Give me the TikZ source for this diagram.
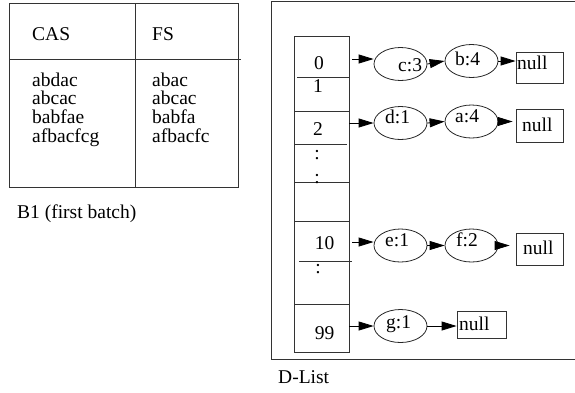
\documentclass[tikz,border=0pt]{standalone}
\usepackage{fontspec}
\setmainfont{Liberation Serif}
\usetikzlibrary{shapes.geometric,arrows.meta}
\begin{document}
\begin{tikzpicture}[x=1pt,y=-1pt,
  ln/.style={line width=0.8pt,draw=black!80},
  txt/.style={anchor=base west,inner sep=0pt,font=\fontsize{19.5}{18.7}\selectfont},
  ctxt/.style={anchor=base,inner sep=0pt,font=\fontsize{19.5}{18.7}\selectfont},
  ell/.style={ellipse,draw=black!85,line width=0.8pt,minimum width=53pt,minimum height=33pt,inner sep=0pt},
  nbox/.style={rectangle,draw=black!80,line width=0.8pt,inner sep=0pt},
  arr/.style={line width=0.8pt,draw=black,-{Triangle[length=15pt,width=9pt]}}]
\useasboundingbox (0,0) rectangle (575,392);

% ---- left table ----
\draw[ln] (9,3) rectangle (238,187);
\draw[ln] (135,3) -- (135,187);
\draw[ln] (9,59) -- (241,59);
\node[txt] (cas) at (32,40.5) {CAS};
\node[txt] (fs) at (152,40.5) {FS};
\node[txt] (c1) at (32,86) {abdac};
\node[txt] (c2) at (32,104.7) {abcac};
\node[txt] (c3t) at (32,123.3) {babfae};
\node[txt] (c4) at (32,142) {afbacfcg};
\node[txt] (f1) at (152,86) {abac};
\node[txt] (f2t) at (152,104.7) {abcac};
\node[txt] (f3) at (152,123.3) {babfa};
\node[txt] (f4) at (152,142) {afbacfc};
\node[txt] (b1) at (17,218) {B1 (first batch)};

% ---- right panel ----
\draw[ln] (575,1) -- (271,1) -- (271,359) -- (575,359);
\node[txt] (dlist) at (278,383) {D-List};

% array
\node[nbox,minimum width=55pt,minimum height=316pt] (array) at (321.5,194) {};
\draw[ln] (297,77) -- (349,77);
\draw[ln] (294,111) -- (349,111);
\draw[ln] (294,144) -- (347,144);
\draw[ln] (294,182) -- (349,182);
\draw[ln] (294,221) -- (349,221);
\draw[ln] (299,261) -- (352,261);
\draw[ln] (294,304) -- (349,304);
\node[ctxt] (i0) at (319,69) {0};
\node[ctxt] (i1) at (318,92) {1};
\node[ctxt] (i2) at (318,135) {2};
\node[ctxt] (d1a) at (317,159) {:};
\node[ctxt] (d1b) at (317,183) {:};
\node[ctxt] (i10) at (324.5,249) {10};
\node[ctxt] (d2) at (318,273) {:};
\node[ctxt] (i99) at (324.5,339) {99};

% ellipses
\node[ell] (c3) at (400.5,64) {};
\node[ell] (b4) at (471.5,61) {};
\node[ell] (d1) at (400.5,123) {};
\node[ell] (a4) at (471.5,121.5) {};
\node[ell] (e1) at (400.5,245.5) {};
\node[ell] (f2) at (471.5,245.5) {};
\node[ell] (g1) at (400.5,326) {};
\node[txt] (c3l) at (398,71) {c:3};
\node[txt] (b4l) at (455,65) {b:4};
\node[txt] (d1l) at (385,123) {d:1};
\node[txt] (a4l) at (455,122) {a:4};
\node[txt] (e1l) at (385,246) {e:1};
\node[txt] (f2l) at (456,246) {f:2};
\node[txt] (g1l) at (386,328) {g:1};

% null boxes
\node[nbox,minimum width=47pt,minimum height=31pt] (n1) at (539.5,67.5) {};
\node[nbox,minimum width=47pt,minimum height=33pt] (n2) at (539.5,125.5) {};
\node[nbox,minimum width=47pt,minimum height=32pt] (n3) at (539.5,249) {};
\node[nbox,minimum width=49pt,minimum height=27pt] (n4) at (481.5,324.5) {};
\node[txt] (n1l) at (517,69) {null};
\node[txt] (n2l) at (522,131) {null};
\node[txt] (n3l) at (523,254) {null};
\node[txt] (n4l) at (459,330) {null};

% arrows
\coordinate (s0) at (352,59);
\draw[arr] (s0) -- (s0 -| c3.west);
\draw[arr] (c3.east) -- (b4.west);
\draw[arr] (b4.east) -- (b4.east -| n1.west);
\draw[arr] (array.east |- d1.west) -- (d1.west);
\draw[arr] (d1.east) -- (a4.west);
\draw[arr,shorten >=3pt] (a4.east) -- (a4.east -| n2.west);
\coordinate (s10) at (352,242);
\draw[arr] (s10) -- (s10 -| e1.west);
\draw[arr] (e1.east) -- (f2.west);
\draw[arr,shorten >=6pt] (f2.east) -- (f2.east -| n3.west);
\draw[arr] (array.east |- g1.west) -- (g1.west);
\draw[arr] (g1.east) -- (g1.east -| n4.west);
\end{tikzpicture}
\end{document}
